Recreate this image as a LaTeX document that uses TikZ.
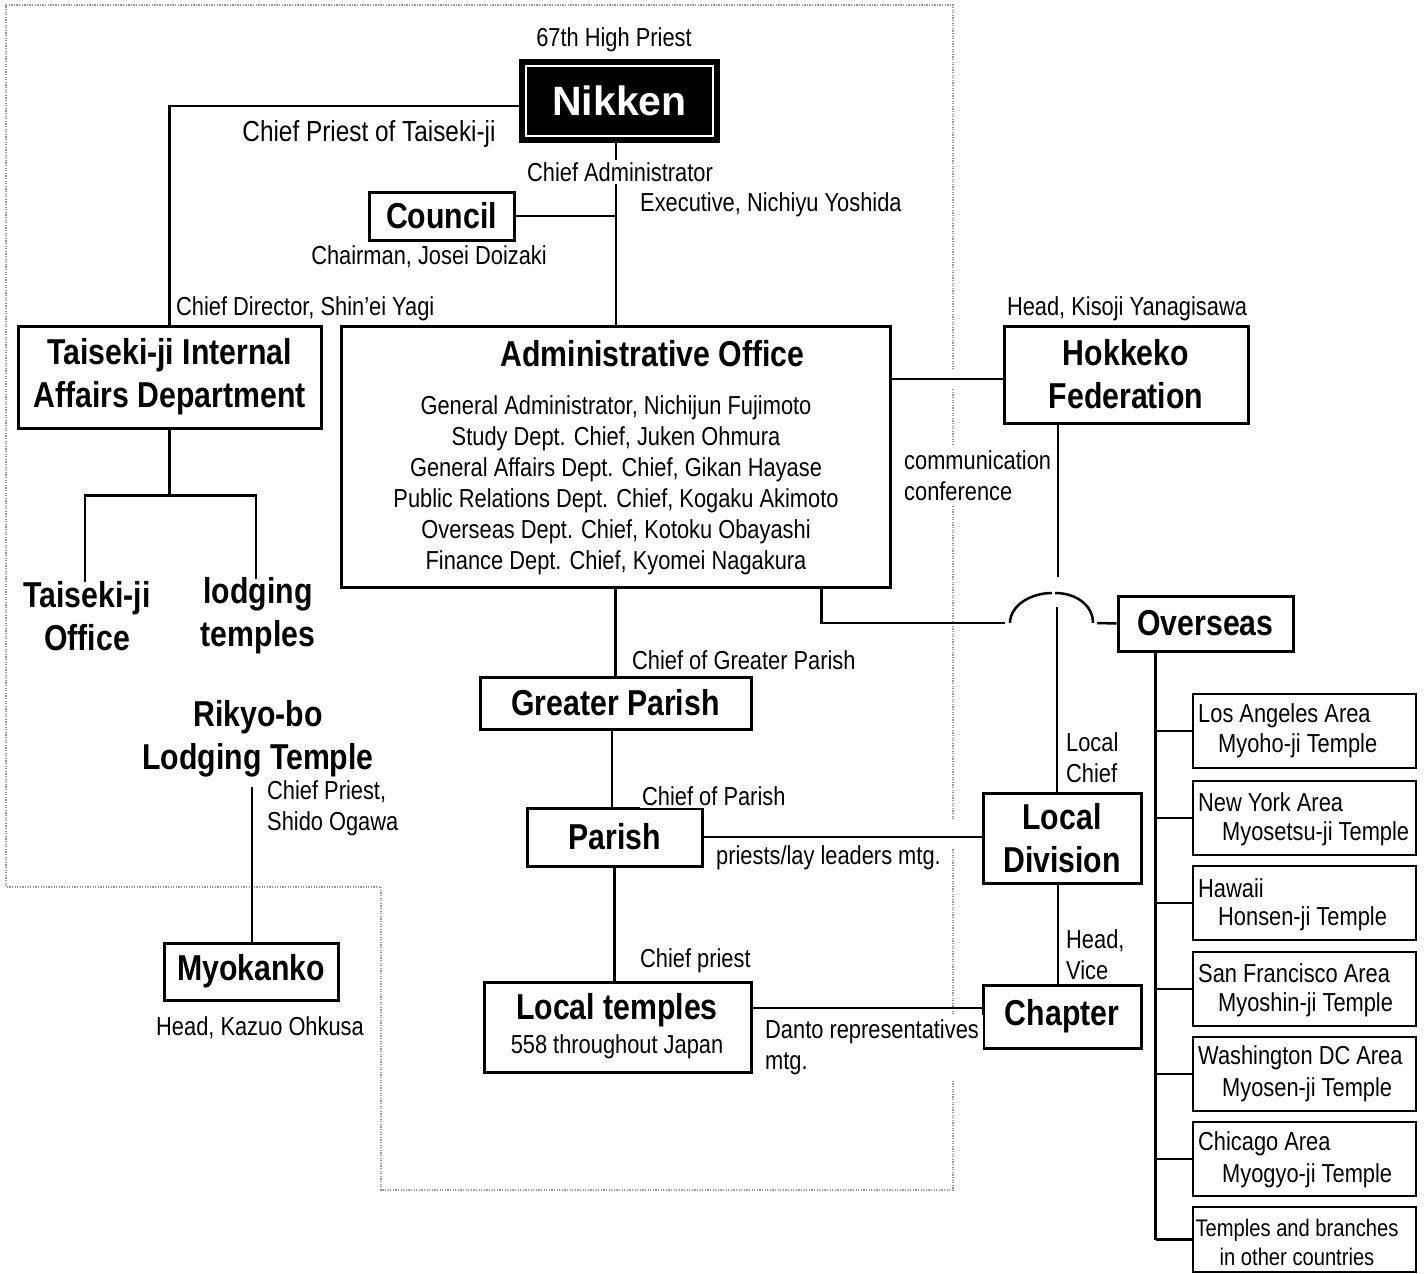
\documentclass[tikz,border=0pt]{standalone}
\usepackage{fontspec}
\setmainfont{Liberation Sans}[FakeStretch=0.84]
\newfontfamily\widefont{Liberation Sans}
\newcommand\smtxt{\fontsize{26}{31}\selectfont}
\newcommand\bigtxt{\fontsize{36}{43}\selectfont\bfseries}
\pgfdeclarelayer{bg}\pgfdeclarelayer{gap}\pgfsetlayers{bg,gap,main}
\begin{document}
\begin{tikzpicture}[x=1pt,y=-1pt,
 box/.style={draw, line width=3pt, inner sep=0pt, align=center, font=\bigtxt},
 rbox/.style={draw, line width=2.5pt, inner sep=0pt, minimum width=223, minimum height=74},
 lbl/.style={font=\smtxt, fill=white, inner sep=2pt, align=left},
 rtxt/.style={font=\smtxt, inner sep=0pt, anchor=west},
 ttl/.style={font=\bigtxt, inner sep=1pt, align=center},
 conn/.style={line width=2.5pt}]
\useasboundingbox (0,0) rectangle (1424,1274);
\begin{pgfonlayer}{bg}
\fill[white] (0,0) rectangle (1424,1274);
\draw[gray!80, line width=1.3pt, dash pattern=on 1.3pt off 1.3pt]
  (6,5) -- (953,5) -- (953,1190) -- (381,1190) -- (381,887) -- (6,887) -- cycle;
\end{pgfonlayer}

% ---------- boxes ----------
\node[fill=black, minimum width=201, minimum height=84, inner sep=0pt] (nik) at (619.5,101) {};
\draw[white, line width=2pt] ([shift={(7,7)}]nik.north west) rectangle ([shift={(-7,-7)}]nik.south east);
\node[text=white, font=\widefont\bfseries\fontsize{41}{41}\selectfont, inner sep=0pt] (niktxt) at (nik.center) {Nikken};

\node[box, minimum width=145, minimum height=48] (cou) at (441.5,216) {Council};
\node[box, minimum width=303, minimum height=102] (tid) at (169.5,377) {Taiseki-ji Internal\\Affairs Department};
\node[box, minimum width=549, minimum height=261] (adm) at (615.5,456.5) {};
\node[ttl] (admt) at (652.5,354) {Administrative Office};
\node[font=\smtxt, inner sep=0pt, align=center] (admx) at (616,485) {General Administrator, Nichijun Fujimoto\\Study Dept. Chief, Juken Ohmura\\General Affairs Dept. Chief, Gikan Hayase\\Public Relations Dept. Chief, Kogaku Akimoto\\Overseas Dept. Chief, Kotoku Obayashi\\Finance Dept. Chief, Kyomei Nagakura};
\node[box, minimum width=244, minimum height=97] (hok) at (1126,374.5) {Hokkeko\\Federation};
\node[box, minimum width=175, minimum height=55] (ovs) at (1205.5,623.5) {Overseas};
\node[box, minimum width=271, minimum height=52] (gp) at (615.5,703) {Greater Parish};
\node[box, minimum width=175, minimum height=58] (par) at (614.5,837) {Parish};
\node[box, minimum width=267, minimum height=90] (lt) at (617.5,1027) {};
\node[ttl] (ltt) at (617,1010) {Local temples};
\node[font=\smtxt, inner sep=0pt] (ltx) at (617,1047) {558 throughout Japan};
\node[box, minimum width=158, minimum height=90] (ld) at (1062,838) {Local\\Division};
\node[box, minimum width=158, minimum height=63] (chap) at (1062,1016.5) {Chapter};
\node[box, minimum width=174, minimum height=57] (myo) at (251,971.5) {Myokanko};
\node[ttl] (tof) at (87,616) {Taiseki-ji\\Office};
\node[ttl] (ltp) at (258,616) {lodging\\temples};
\node[ttl] (rik) at (258,739) {Rikyo-bo\\Lodging Temple};

% right column
\node[rbox] (la) at (1304.5,731) {};
\node[rbox] (ny) at (1304.5,818) {};
\node[rbox] (hw) at (1304.5,903) {};
\node[rbox] (sf) at (1304.5,989) {};
\node[rbox] (dc) at (1304.5,1074) {};
\node[rbox] (ch) at (1304.5,1159) {};
\node[rbox, minimum height=65] (ot) at (1304.5,1239.5) {};
\node[rtxt] (la1) at (1198,716) {Los Angeles Area};
\node[rtxt] (la2) at (1218,746) {Myoho-ji Temple};
\node[rtxt] (ny1) at (1198,802) {New York Area};
\node[rtxt] (ny2) at (1222,834) {Myosetsu-ji Temple};
\node[rtxt] (hw1) at (1198,888) {Hawaii};
\node[rtxt] (hw2) at (1218,919) {Honsen-ji Temple};
\node[rtxt] (sf1) at (1198,973) {San Francisco Area};
\node[rtxt] (sf2) at (1218,1005) {Myoshin-ji Temple};
\node[rtxt] (dc1) at (1198,1058) {Washington DC Area};
\node[rtxt] (dc2) at (1222,1090) {Myosen-ji Temple};
\node[rtxt] (ch1) at (1198,1144) {Chicago Area};
\node[rtxt] (ch2) at (1222,1176) {Myogyo-ji Temple};
\node[font=\fontsize{24}{29}\selectfont, inner sep=0pt, align=center] (ot1) at (1297,1242) {Temples and branches\\in other countries};

% ---------- connectors ----------
\draw[conn] ([yshift=-5pt]nik.west) -| (tid.north);
\draw[conn] ([xshift=-3.5pt]nik.south) -- ([xshift=-3.5pt]nik.south |- adm.north);
\coordinate (cj) at ([xshift=-3.5pt]nik.south |- cou.east);
\draw[conn] (cou.east) -- (cj);
\draw[conn] ([yshift=-4.5pt]adm.east |- hok.west) -- ([yshift=-4.5pt]hok.west);
\coordinate (hv) at ([xshift=-68pt]hok.south);
\coordinate (hvend) at ([yshift=-152pt]hv);
\draw[conn] (hv) -- (hvend);
\coordinate (hl) at ([xshift=-70pt]adm.south east);
\coordinate (hopL) at (1005,623);
\draw[conn] (hl) |- (hopL);
\draw[conn] (1010,623) .. controls (1010,606) and (1030,593) .. (1052,593);
\draw[conn] (1055,593) .. controls (1077,593) and (1093,606) .. (1093,623);
\coordinate (hopR) at (1097,623);
\draw[conn] (hopR) -- (ovs.west);
\coordinate (vs) at ([xshift=-5pt]ld.north |- 0,607);
\draw[conn] (vs) -- ([xshift=-5pt]ld.north);
\draw[conn] ([xshift=-4pt]ld.south) -- ([xshift=-4pt]ld.south |- chap.north);
\coordinate (ob) at ([xshift=39pt]ovs.south west);
\draw[conn] (ob) -- (ob |- ot.west);
\foreach \b in {la,ny,hw,sf,dc,ch,ot} { \draw[conn] (ob |- \b.west) -- (\b.west); }
\draw[conn] (gp.north |- adm.south) -- (gp.north);
\draw[conn] ([xshift=-2.5pt]par.north |- gp.south) -- ([xshift=-2.5pt]par.north);
\draw[conn] (par.south) -- (par.south |- lt.north);
\draw[conn] (par.east) -- (par.east -| ld.west);
\draw[conn] ([yshift=8.5pt]chap.west) -- ([yshift=8.5pt]chap.west -| lt.east);
\coordinate (tj) at ([yshift=-66pt]tid.south);
\draw[conn] (tid.south) -- (tj);
\draw[conn] ([shift={(-2pt,-2pt)}]tof.north) |- ([xshift=-2pt]ltp.north |- tj) -- ([shift={(-2pt,-2pt)}]ltp.north);
\draw[conn] ([shift={(-6pt,-8pt)}]rik.south) -- ([xshift=1pt]myo.north);

% ---------- labels ----------
\node[lbl] (l67) at (614,40) {67th High Priest};
\node[lbl, font=\fontsize{29}{34}\selectfont] (lcp) at (369,134) {Chief Priest of Taiseki-ji};
\node[lbl] (lca) at (620,172) {Chief Administrator};
\node[lbl, anchor=west] (lex) at (638,205) {Executive, Nichiyu Yoshida};
\node[lbl] (lch) at (429,257) {Chairman, Josei Doizaki};
\node[lbl, anchor=west] (lcd) at (174,309) {Chief Director, Shin’ei Yagi};
\node[lbl] (lhk) at (1127,309) {Head, Kisoji Yanagisawa};
\node[lbl, anchor=west, inner sep=5pt] (lcc) at (899,476) {communication\\conference};
\node[lbl, anchor=west] (lgp) at (630,660) {Chief of Greater Parish};
\node[lbl, anchor=west] (lpa) at (640,796) {Chief of Parish};
\node[lbl, anchor=west] (lpl) at (714,858) {priests/lay leaders mtg.};
\node[lbl, anchor=west] (llc) at (1064,758) {Local\\Chief};
\node[lbl, anchor=west] (lhv) at (1064,955) {Head,\\Vice};
\node[lbl, anchor=west] (lcpr) at (638,961) {Chief priest};
\node[lbl, anchor=west, inner sep=4pt] (lda) at (761,1047) {Danto representatives\\mtg.};
\node[lbl, anchor=west] (lso) at (265,808) {Chief Priest,\\Shido Ogawa};
\node[lbl] (lko) at (260,1028) {Head, Kazuo Ohkusa};

% ---------- gaps in the dotted outline ----------
\begin{pgfonlayer}{gap}
\fill[white] (944,369) rectangle (962,389);
\fill[white] (944,820) rectangle (962,848);
\end{pgfonlayer}
\end{tikzpicture}
\end{document}
